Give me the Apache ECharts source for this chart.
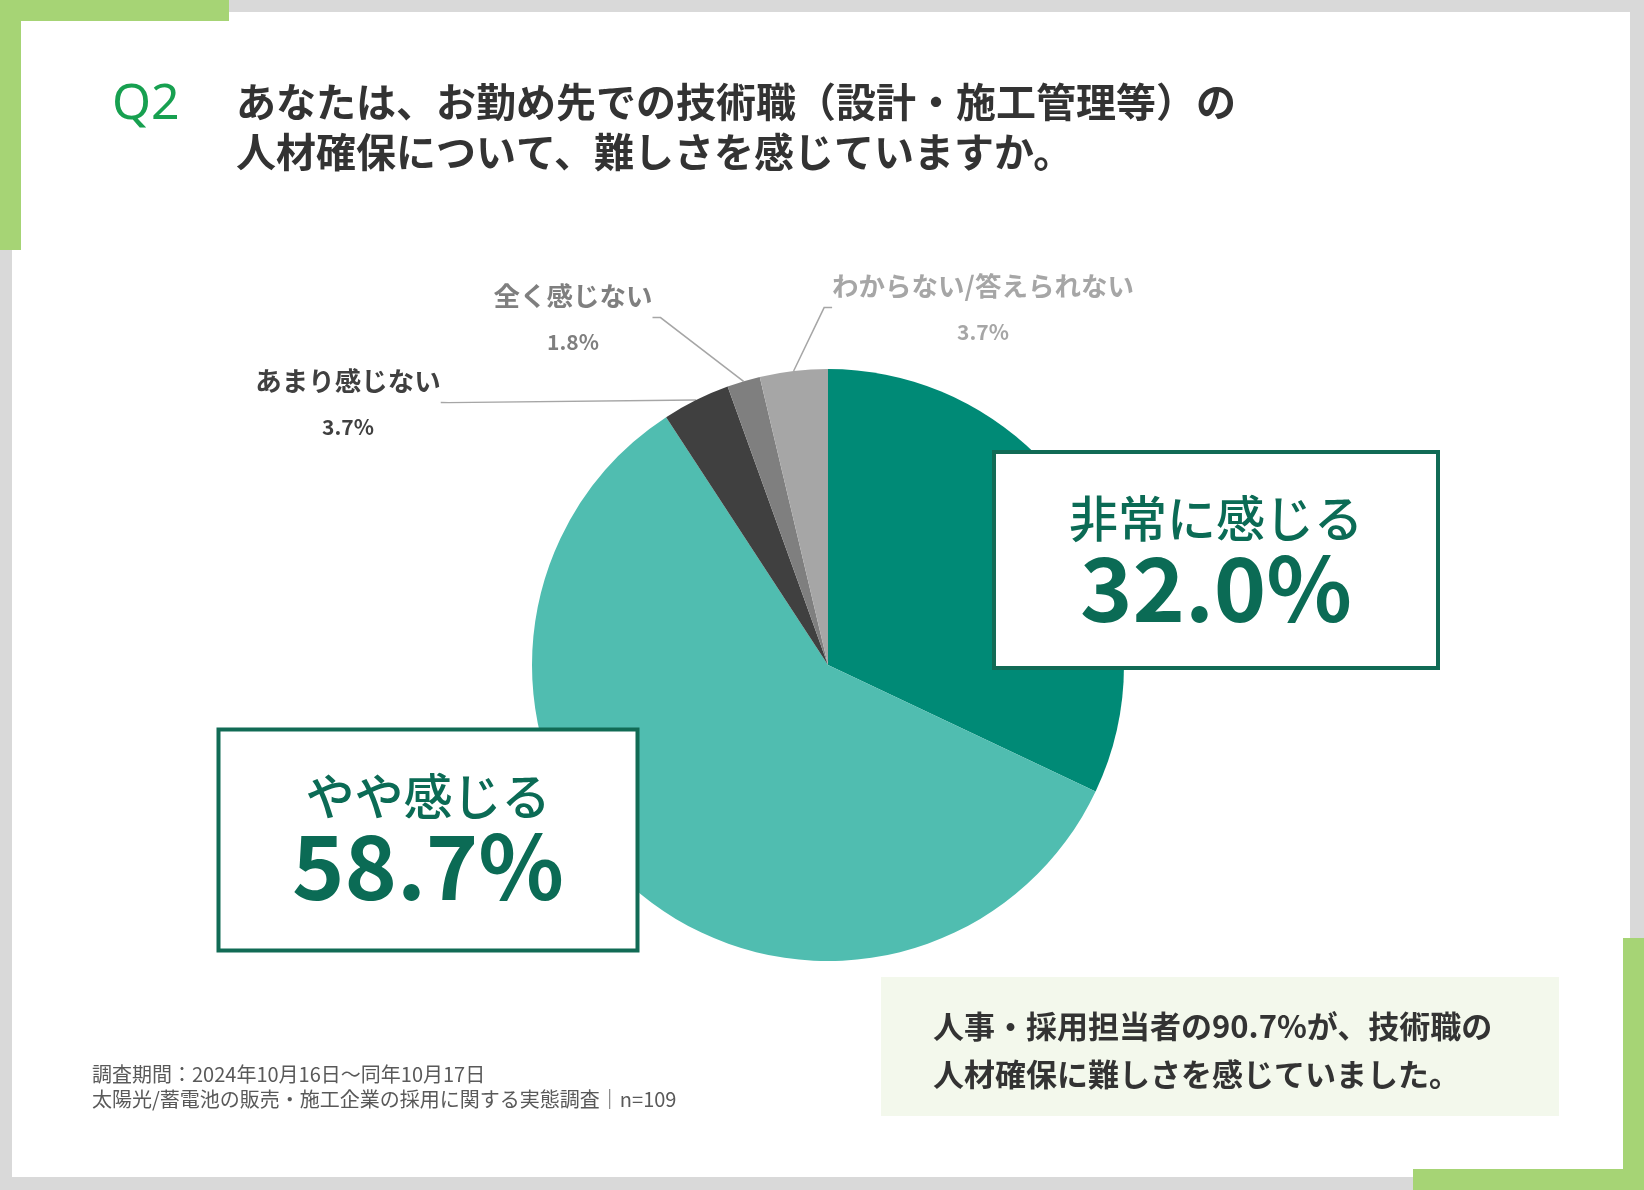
<!DOCTYPE html>
<html>
<head>
<meta charset="utf-8">
<script src="https://cdn.jsdelivr.net/npm/echarts@6/dist/echarts.min.js"></script>
<style>
  html, body { margin: 0; padding: 0; background: #d9d9d9; }
  #chart { width: 1644px; height: 1190px; }
</style>
</head>
<body>
<div id="chart"></div>
<script>
// Answers and shares (%)
const categories = ['非常に感じる', 'やや感じる', 'あまり感じない', '全く感じない', 'わからない/答えられない'];
const values = [32.0, 58.7, 3.7, 1.8, 3.7];

// Texts
const qLabel = 'Q2';
const titleLines = ['あなたは、お勤め先での技術職（設計・施工管理等）の', '人材確保について、難しさを感じていますか。'];
const noteLines = ['人事・採用担当者の90.7%が、技術職の', '人材確保に難しさを感じていました。'];
const sourceLines = ['調査期間：2024年10月16日〜同年10月17日', '太陽光/蓄電池の販売・施工企業の採用に関する実態調査｜n=109'];

// Styles
const sliceColors = ['#008a76', '#50bdb0', '#404040', '#7f7f7f', '#a6a6a6'];
const labelColors = ['#0b6b55', '#0b6b55', '#404040', '#7f7f7f', '#a6a6a6'];
const green = '#a6d475';
const boxGreen = '#116b55';
const jp = '"Noto Sans CJK JP", "Noto Sans", sans-serif';

// where each label goes (center of its block)
const labelSpots = [
    { x: 1216, y: 560 },
    { x: 428, y: 840 },
    { x: 348, y: 404 },
    { x: 573, y: 319 },
    { x: 983, y: 309 }
];

const chart = echarts.init(document.getElementById('chart'));

const pieData = categories.map((name, i) => {
    const big = i < 2;
    return {
        name: name,
        value: values[i],
        itemStyle: { color: sliceColors[i] },
        label: big ? {
            formatter: p => '{bn|' + p.name + '}\n{bv|' + p.value.toFixed(1) + '%}',
            color: labelColors[i],
            backgroundColor: '#fff',
            borderColor: boxGreen,
            borderWidth: 4,
            width: i === 0 ? 440 : 415,
            padding: i === 0 ? [34, 0, 38, 0] : [35, 0, 42, 0]
        } : {
            formatter: p => '{n|' + p.name + '}\n{v|' + p.value.toFixed(1) + '%}',
            color: labelColors[i]
        },
        labelLine: { show: !big }
    };
});

const option = {
    backgroundColor: '#d9d9d9',
    animation: false,
    graphic: [
        { type: 'rect', z: 0, shape: { x: 12, y: 12, width: 1618, height: 1165 }, style: { fill: '#fff' } },
        { type: 'rect', z: 1, shape: { x: 0, y: 0, width: 229, height: 21 }, style: { fill: green } },
        { type: 'rect', z: 1, shape: { x: 0, y: 0, width: 21, height: 250 }, style: { fill: green } },
        { type: 'rect', z: 1, shape: { x: 1623, y: 938, width: 21, height: 252 }, style: { fill: green } },
        { type: 'rect', z: 1, shape: { x: 1413, y: 1169, width: 231, height: 21 }, style: { fill: green } },
        { type: 'text', z: 5, left: 112, top: 80,
          style: { text: qLabel, fill: '#17a050', font: '400 50px "Noto Sans", sans-serif' } },
        { type: 'text', z: 5, left: 236, top: 77,
          style: { text: titleLines.join('\n'), fill: '#333', font: '700 40px ' + jp, lineHeight: 50 } },
        { type: 'rect', z: 1, shape: { x: 881, y: 977, width: 678, height: 139 }, style: { fill: '#f3f8ec' } },
        { type: 'text', z: 5, left: 933, top: 1002,
          style: { text: noteLines.join('\n'), fill: '#333', font: '700 31px ' + jp, lineHeight: 48 } },
        { type: 'text', z: 5, left: 92, top: 1062,
          style: { text: sourceLines.join('\n'), fill: '#595959', font: '400 20px ' + jp, lineHeight: 25 } }
    ],
    series: [{
        type: 'pie',
        z: 3,
        center: [828, 665],
        radius: 296,
        startAngle: 90,
        clockwise: true,
        avoidLabelOverlap: false,
        itemStyle: { borderWidth: 0 },
        label: {
            show: true,
            position: 'outside',
            fontFamily: jp,
            rich: {
                n: { fontSize: 26.5, fontWeight: 'bold', lineHeight: 46, align: 'center', fontFamily: jp },
                v: { fontSize: 21, fontWeight: 'bold', lineHeight: 46, align: 'center', fontFamily: jp },
                bn: { fontSize: 49, fontWeight: 500, lineHeight: 60, align: 'center', fontFamily: jp },
                bv: { fontSize: 89, fontWeight: 'bold', lineHeight: 80, align: 'center', fontFamily: jp }
            }
        },
        labelLine: {
            show: true,
            length: 10,
            length2: 8,
            lineStyle: { color: '#a6a6a6', width: 1.5 }
        },
        labelLayout: function (params) {
            const s = labelSpots[params.dataIndex];
            return { x: s.x, y: s.y, align: 'center', verticalAlign: 'middle' };
        },
        data: pieData
    }]
};

chart.setOption(option);
</script>
</body>
</html>
